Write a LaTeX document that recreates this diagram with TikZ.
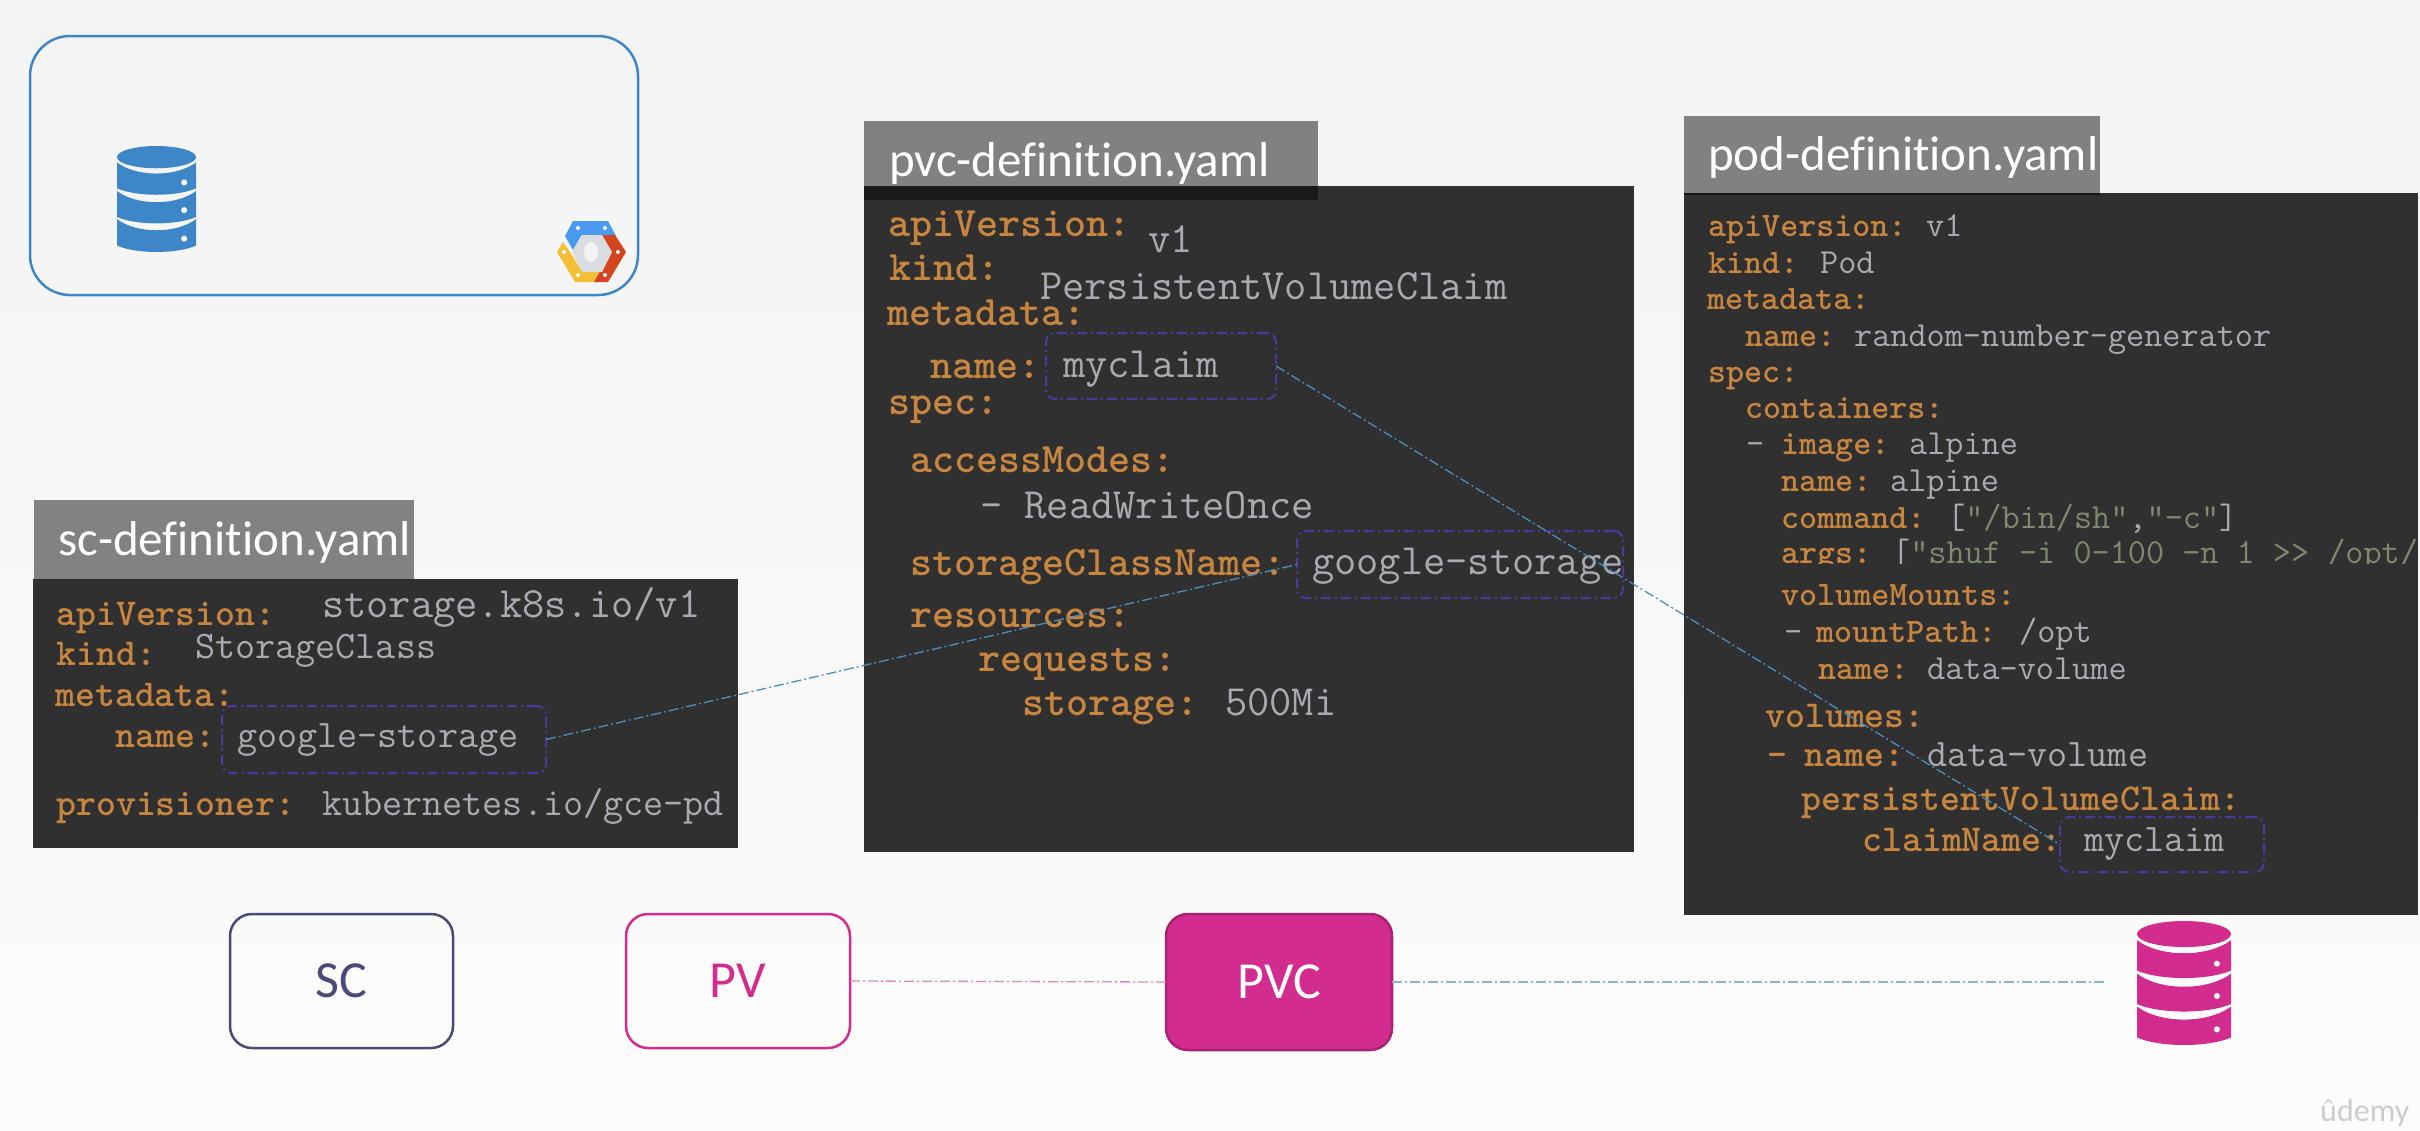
\documentclass[tikz,border=0pt]{standalone}
\usepackage{fontspec}
\newfontfamily\titlefont[Ligatures={NoCommon,NoContextual}]{Carlito}
\definecolor{bgtop}{HTML}{F3F3F3}
\definecolor{bgbot}{HTML}{FCFCFC}
\definecolor{panelgrey}{HTML}{303030}
\definecolor{keyorange}{HTML}{C8853F}
\definecolor{valgrey}{HTML}{A8ACB2}
\definecolor{strgreen}{HTML}{7D8A6E}
\definecolor{dbblue}{HTML}{3D87C9}
\definecolor{linkblue}{HTML}{4A90BE}
\definecolor{linkpale}{HTML}{88B4D0}
\definecolor{linkpink}{HTML}{D98ABF}
\definecolor{markpurple}{HTML}{4B3A9E}
\definecolor{dbpink}{HTML}{D22C8F}
\definecolor{scnavy}{HTML}{4A4A78}
\definecolor{logoyellow}{HTML}{F4BF36}
\definecolor{logoblue}{HTML}{4A9AEF}
\definecolor{logored}{HTML}{D4451F}
\definecolor{logogrey}{HTML}{DADDE0}
\tikzset{
  panel/.style={fill=panelgrey, inner sep=0pt, outer sep=0pt},
  header/.style={fill=black, fill opacity=0.47, inner sep=0pt, outer sep=0pt},
  filetitle/.style={font=\titlefont\fontsize{#1}{#1}\selectfont, text=white, anchor=base west, inner sep=0pt},
  yamlkey/.style={font=\ttfamily\bfseries\fontsize{#1}{#1}\selectfont, text=keyorange, anchor=base west, inner sep=0pt},
  yamlval/.style={font=\ttfamily\fontsize{#1}{#1}\selectfont, text=valgrey, anchor=base west, inner sep=0pt},
  markbox/.style={draw=markpurple, line width=2pt, rounded corners=9pt, dash pattern=on 10pt off 4pt on 2pt off 4pt, inner sep=0pt, outer sep=0pt},
  stagebox/.style={line width=2.5pt, rounded corners=22pt, minimum height=134pt, inner sep=0pt, outer sep=0pt, font=\titlefont\fontsize{52}{52}\selectfont},
  link/.style={line width=1.3pt, dash pattern=on 10pt off 3pt on 2pt off 3pt}
}
\newcommand{\dbicon}[5]{%
  \begin{scope}[shift={(#1,#2)}, x=#3pt, y=-#4pt]
    \fill[#5] (-.5,.105) arc[start angle=180, end angle=-180, x radius=.5, y radius=.105];
    \fill[#5] (-.5,.155) .. controls (-.25,.295) and (.25,.295) .. (.5,.155) -- (.5,.40) .. controls (.25,.48) and (-.25,.48) .. (-.5,.40) -- cycle;
    \fill[#5] (-.5,.425) .. controls (-.25,.565) and (.25,.565) .. (.5,.425) -- (.5,.67) .. controls (.25,.75) and (-.25,.75) .. (-.5,.67) -- cycle;
    \fill[#5] (-.5,.69) .. controls (-.25,.83) and (.25,.83) .. (.5,.69) -- (.5,.94) .. controls (.25,1.02) and (-.25,1.02) .. (-.5,.94) -- cycle;
    \fill[white] (.35,.344) circle[radius=3pt];
    \fill[white] (.35,.605) circle[radius=3pt];
    \fill[white] (.35,.874) circle[radius=3pt];
  \end{scope}}
\begin{document}
\begin{tikzpicture}[x=1pt, y=-1pt]
  \useasboundingbox (0,0) rectangle (2420,1130);
  \shade[top color=bgtop, bottom color=bgbot] (0,0) rectangle (2420,1130);
  % Cloud box
  \node (gcpbox) [draw=dbblue, line width=2.5pt, rounded corners=40pt, minimum width=608pt, minimum height=259pt, inner sep=0pt] at (334,165.5) {};
  \dbicon{156.5}{146}{79}{106}{dbblue}
  % Cloud logo
  \fill[logoyellow] (563,242) -- (557,252) -- (575,282) -- (597,282) -- (604,270) -- (581,270) -- (570,252) -- cycle;
  \fill[logoblue] (573,221) -- (608,221) -- (616,236) -- (581,236) -- (573,250) -- (565,236) -- cycle;
  \fill[logored] (602,235) -- (615,235) -- (626,252) -- (608,282) -- (594,282) -- (611,252) -- cycle;
  \fill[logogrey] (582,235) -- (602,235) -- (612,252) -- (602,272) -- (582,272) -- (572,252) -- cycle;
  \fill[bgtop] (591,252) ellipse (7 and 10);
  \fill[white] (578,228) circle (2);
  \fill[white] (605,228) circle (2);
  \fill[white] (564,252) circle (2);
  \fill[white] (618,252) circle (2);
  \fill[white] (578,275) circle (2);
  \fill[white] (605,275) circle (2);
  % StorageClass file
  \node (scpanel) [panel, minimum width=705pt, minimum height=269pt] at (385.5,713.5) {};
  \node (schead) [header, minimum width=380pt, minimum height=79pt] at (224,539.5) {};
  \node (sctitle) [filetitle=49] at (58,555) {sc-definition.yaml};
  \node (scapi) [yamlkey=38] at (56,625) {apiVersion:};
  \node (scapival) [yamlval=43.2] at (322,617) {storage.k8s.io/v1};
  \node (sckind) [yamlkey=38] at (56,665) {kind:};
  \node (sckindval) [yamlval=39] at (195,658) {StorageClass};
  \node (scmeta) [yamlkey=38] at (55,706) {metadata:};
  \node (scname) [yamlkey=38] at (115,747) {name:};
  \node (scnameval) [yamlval=39] at (237,747) {google-storage};
  \node (scmark) [markbox, minimum width=324pt, minimum height=67pt] at (384,739.5) {};
  \node (scprov) [yamlkey=38] at (56,815) {provisioner:};
  \node (scprovval) [yamlval=39] at (322,815) {kubernetes.io/gce-pd};
  % PVC file
  \node (pvcpanel) [panel, minimum width=770pt, minimum height=666pt] at (1249,519) {};
  \node (pvchead) [header, minimum width=454pt, minimum height=79pt] at (1091,160.5) {};
  \node (pvctitle) [filetitle=49] at (889,176) {pvc-definition.yaml};
  \node (pvcapi) [yamlkey=42] at (888,236) {apiVersion:};
  \node (pvcapival) [yamlval=43.2] at (1148,252) {v1};
  \node (pvckind) [yamlkey=42] at (889,280) {kind:};
  \node (pvckindval) [yamlval=43.2] at (1040,299) {PersistentVolumeClaim};
  \node (pvcmeta) [yamlkey=42] at (887,325) {metadata:};
  \node (pvcname) [yamlkey=42] at (930,378) {name:};
  \node (pvcnameval) [yamlval=43.2] at (1063,377) {myclaim};
  \node (pvcmark) [markbox, minimum width=230pt, minimum height=66pt] at (1161,366) {};
  \node (pvcspec) [yamlkey=42] at (888,414) {spec:};
  \node (pvcmodes) [yamlkey=42] at (910,472) {accessModes:};
  \node (pvcmodesval) [yamlval=43.2] at (980,518) {- ReadWriteOnce};
  \node (pvcclass) [yamlkey=42] at (910,575) {storageClassName:};
  \node (pvcclassval) [yamlval=43.2] at (1312,574) {google-storage};
  \node (pvcclassmark) [markbox, minimum width=326pt, minimum height=67pt] at (1460,564.5) {};
  \node (pvcres) [yamlkey=42] at (910,627) {resources:};
  \node (pvcreq) [yamlkey=42] at (978,671) {requests:};
  \node (pvcstore) [yamlkey=42] at (1022,715) {storage:};
  \node (pvcstoreval) [yamlval=43.2] at (1225,715) {500Mi};
  % Pod file
  \node (podpanel) [panel, minimum width=734pt, minimum height=722pt] at (2051,554) {};
  \node (podhead) [header, minimum width=416pt, minimum height=79pt] at (1892,155.5) {};
  \node (podtitle) [filetitle=49] at (1708,170) {pod-definition.yaml};
  \node (podapi) [yamlkey=34.3] at (1708,236) {apiVersion:};
  \node (podapival) [yamlval=35.2] at (1926,236) {v1};
  \node (podkind) [yamlkey=34.3] at (1708,273) {kind:};
  \node (podkindval) [yamlval=35.2] at (1820,273) {Pod};
  \node (podmeta) [yamlkey=34.3] at (1707,309) {metadata:};
  \node (podname) [yamlkey=34.3] at (1745,346) {name:};
  \node (podnameval) [yamlval=35.2] at (1854,346) {random-number-generator};
  \node (podspec) [yamlkey=34.3] at (1708,382) {spec:};
  \node (podcont) [yamlkey=34.3] at (1745,418) {containers:};
  \node (podimgdash) [yamlval=35.2] at (1746,454) {-};
  \node (podimg) [yamlkey=34.3] at (1781,454) {image:};
  \node (podimgval) [yamlval=35.2] at (1909,454) {alpine};
  \node (podcname) [yamlkey=34.3] at (1781,491) {name:};
  \node (podcnameval) [yamlval=35.2] at (1890,491) {alpine};
  \node (podcmd) [yamlkey=34.3] at (1781,528) {command:};
  \node (podcmdval) [yamlval=35.2] at (1947,528) {[\textcolor{strgreen}{"/bin/sh"},\textcolor{strgreen}{"-c"}]};
  \node (podargs) [yamlkey=34.3] at (1781,563) {args:};
  \node (podargsval) [yamlval=35.2] at (1892,563) {[\textcolor{strgreen}{"shuf -i 0-100 -n 1 >> /opt/}};
  \fill[panelgrey] (1770,564) rectangle (2418,576);
  \node (podmounts) [yamlkey=34.3] at (1781,605) {volumeMounts:};
  \node (podmntdash) [yamlval=35.2] at (1784,642) {-};
  \node (podmnt) [yamlkey=34.3] at (1816,642) {mountPath:};
  \node (podmntval) [yamlval=35.2] at (2019,642) {/opt};
  \node (podmntname) [yamlkey=34.3] at (1818,679) {name:};
  \node (podmntnameval) [yamlval=35.2] at (1927,679) {data-volume};
  \node (podvols) [yamlkey=38] at (1765,727) {volumes:};
  \node (podvoldash) [yamlkey=38] at (1767,766) {-};
  \node (podvol) [yamlkey=38] at (1804,766) {name:};
  \node (podvolval) [yamlval=39] at (1927,766) {data-volume};
  \node (podpvc) [yamlkey=38] at (1801,810) {persistentVolumeClaim:};
  \node (podclaim) [yamlkey=38] at (1862,851) {claimName:};
  \node (podclaimval) [yamlval=39] at (2084,851) {myclaim};
  \node (podmark) [markbox, minimum width=204pt, minimum height=55pt] at (2162,844.5) {};
  % Stages
  \node (sc) [stagebox, draw=scnavy, text=scnavy, minimum width=223pt] at (341.5,981) {SC};
  \node (pv) [stagebox, draw=dbpink, text=dbpink, minimum width=224pt] at (738,981) {PV};
  \node (pvc) [stagebox, draw=dbpink!80!black, fill=dbpink, text=white, minimum width=226pt, minimum height=136pt] at (1279,982) {PVC};
  \dbicon{2184}{921}{94}{124}{dbpink}
  \coordinate (dbend) at (2106,982);
  % Links
  \draw[link, linkblue] (scmark.east) -- (pvcclassmark.west);
  \draw[link, linkblue] (pvcmark.east) -- (podmark.west);
  \draw[link, linkpink] (pv.east) -- (pvc.west);
  \draw[link, linkpale] (pvc.east) -- (dbend);
  \node (udemy) [font=\titlefont\fontsize{32}{32}\selectfont, text=gray!40, anchor=base west, inner sep=0pt] at (2320,1121) {ûdemy};
\end{tikzpicture}
\end{document}
